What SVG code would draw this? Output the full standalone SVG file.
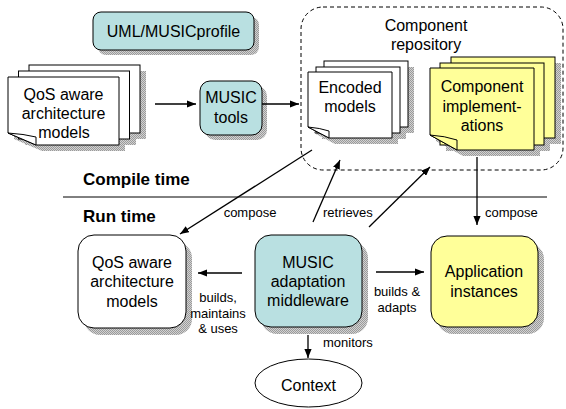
<svg xmlns="http://www.w3.org/2000/svg" width="566" height="409" viewBox="0 0 566 409">
  <defs>
    <pattern id="shade" width="2" height="2" patternUnits="userSpaceOnUse">
      <rect width="2" height="2" fill="#d2d2d2"/>
      <rect width="1" height="1" fill="#9a9a9a"/>
      <rect x="1" y="1" width="1" height="1" fill="#9a9a9a"/>
    </pattern>
    <marker id="arrow" viewBox="0 0 10 8" refX="10" refY="4" markerWidth="9" markerHeight="7.2" markerUnits="userSpaceOnUse" orient="auto">
      <path d="M0,0 L10,4 L0,8 Z" fill="#000"/>
    </marker>
  </defs>
  <style>
    .edge { stroke: #000; stroke-width: 1; }
    .teal { fill: #b9e0e1; }
    .yellow { fill: #ffff99; }
    .white { fill: #fff; }
    .shadow { fill: url(#shade); stroke: none; }
    text { font-family: "Liberation Sans", Arial, Helvetica, sans-serif; font-size: 16px; text-anchor: middle; fill: #000; }
    .small { font-size: 13px; }
    .start { text-anchor: start; }
    .heading { font-size: 17px; font-weight: bold; text-anchor: start; }
    #connectors line { stroke: #000; stroke-width: 1.3; fill: none; }
    #connectors line.arrow { marker-end: url(#arrow); }
  </style>

  <rect width="566" height="409" fill="#fff"/>

  <!-- component repository container -->
  <g id="repository">
    <rect x="301" y="7" width="262" height="163" rx="22" fill="none" stroke="#000" stroke-width="1" stroke-dasharray="4,3"/>
    <text x="426" y="31">Component</text>
    <text x="426" y="50">repository</text>
  </g>

  <!-- profile -->
  <g id="profile">
    <rect class="shadow" x="98" y="17" width="161" height="38" rx="8"/>
    <rect class="edge teal" x="93" y="12" width="161" height="38" rx="8"/>
    <text x="173.5" y="36.5">UML/MUSICprofile</text>
  </g>

  <!-- compile-time architecture models (document stack) -->
  <g id="design-models">
    <rect class="shadow" x="35" y="71" width="111" height="68"/>
    <rect class="shadow" x="25" y="77" width="111" height="68"/>
    <path class="shadow" d="M14,83 H125 V151 H42 L14,139 Z"/>
    <rect class="edge white" x="29" y="65" width="111" height="68"/>
    <rect class="edge white" x="18.5" y="71" width="111" height="68"/>
    <path class="edge white" d="M8,77 H119 V145 H36 L8,133 Z"/>
    <path class="edge white" d="M8,133 Q24,134 36,137 V145 Z"/>
    <text x="63.5" y="100">QoS aware</text>
    <text x="63.5" y="119">architecture</text>
    <text x="64" y="138">models</text>
  </g>

  <!-- tools -->
  <g id="tools">
    <rect class="shadow" x="205" y="86" width="62" height="54" rx="10"/>
    <rect class="edge teal" x="200" y="81" width="62" height="54" rx="10"/>
    <text x="231" y="103">MUSIC</text>
    <text x="231" y="123">tools</text>
  </g>

  <!-- encoded models (document stack) -->
  <g id="encoded-models">
    <rect class="shadow" x="330" y="67" width="84" height="66"/>
    <rect class="shadow" x="322" y="73" width="84" height="66"/>
    <path class="shadow" d="M314,78 H398 V144 H335 L314,133 Z"/>
    <rect class="edge white" x="324" y="61" width="84" height="66"/>
    <rect class="edge white" x="316" y="67" width="84" height="66"/>
    <path class="edge white" d="M308,72 H392 V138 H329 L308,127 Z"/>
    <path class="edge white" d="M308,127 Q320,128 329,131 V138 Z"/>
    <text x="350" y="93">Encoded</text>
    <text x="350" y="112">models</text>
  </g>

  <!-- component implementations (document stack) -->
  <g id="implementations">
    <rect class="shadow" x="457" y="63" width="104" height="81"/>
    <rect class="shadow" x="446" y="69" width="104" height="82"/>
    <path class="shadow" d="M436,74 H540 V156 H463 L436,141 Z"/>
    <rect class="edge yellow" x="451" y="57" width="104" height="81"/>
    <rect class="edge yellow" x="440" y="63" width="104" height="82"/>
    <path class="edge yellow" d="M430,68 H534 V150 H457 L430,135 Z"/>
    <path class="edge yellow" d="M430,135 Q445,136 457,140 V150 Z"/>
    <text x="482" y="92">Component</text>
    <text x="482" y="112">implement-</text>
    <text x="482" y="131">ations</text>
  </g>

  <!-- compile / run time divider -->
  <g id="divider">
    <line x1="63" y1="197" x2="547" y2="197" stroke="#000" stroke-width="1"/>
    <text class="heading" x="83" y="185">Compile time</text>
    <text class="heading" x="83" y="222">Run time</text>
  </g>

  <!-- run-time architecture models -->
  <g id="runtime-models">
    <rect class="shadow" x="84" y="242" width="108" height="93" rx="16"/>
    <rect class="edge white" x="78" y="235" width="108" height="93" rx="16"/>
    <text x="132" y="268">QoS aware</text>
    <text x="132" y="287">architecture</text>
    <text x="132" y="307">models</text>
  </g>

  <!-- middleware -->
  <g id="middleware">
    <rect class="shadow" x="261" y="242" width="107" height="92" rx="16"/>
    <rect class="edge teal" x="255" y="235" width="107" height="92" rx="16"/>
    <text x="308" y="268">MUSIC</text>
    <text x="308" y="287">adaptation</text>
    <text x="308" y="306">middleware</text>
  </g>

  <!-- application instances -->
  <g id="applications">
    <rect class="shadow" x="437" y="243" width="107" height="91" rx="16"/>
    <rect class="edge yellow" x="431" y="236" width="107" height="91" rx="16"/>
    <text x="484" y="277">Application</text>
    <text x="484" y="297">instances</text>
  </g>

  <!-- context -->
  <g id="context">
    <ellipse class="edge white" cx="308.5" cy="383" rx="53.5" ry="24"/>
    <text x="308.5" y="391">Context</text>
  </g>

  <!-- connectors -->
  <g id="connectors">
    <line class="arrow" x1="155" y1="104" x2="196" y2="104"/>
    <line class="arrow" x1="262" y1="104" x2="299" y2="104"/>
    <line class="arrow" x1="312" y1="150" x2="180" y2="234"/>
    <line class="arrow" x1="313" y1="222" x2="340" y2="160"/>
    <line class="arrow" x1="369" y1="227" x2="430" y2="167"/>
    <line class="arrow" x1="477" y1="157" x2="477" y2="225"/>
    <line class="arrow" x1="242" y1="273" x2="198" y2="273"/>
    <line class="arrow" x1="376" y1="272" x2="424" y2="272"/>
    <line class="arrow" x1="308" y1="335" x2="308" y2="358"/>
    <text class="small" x="250" y="217">compose</text>
    <text class="small start" x="323" y="217">retrieves</text>
    <text class="small start" x="485" y="217">compose</text>
    <text class="small" x="218" y="302">builds,</text>
    <text class="small" x="218" y="318">maintains</text>
    <text class="small" x="218" y="333">&amp; uses</text>
    <text class="small" x="397" y="296">builds &amp;</text>
    <text class="small" x="397" y="312">adapts</text>
    <text class="small start" x="323" y="347">monitors</text>
  </g>
</svg>
